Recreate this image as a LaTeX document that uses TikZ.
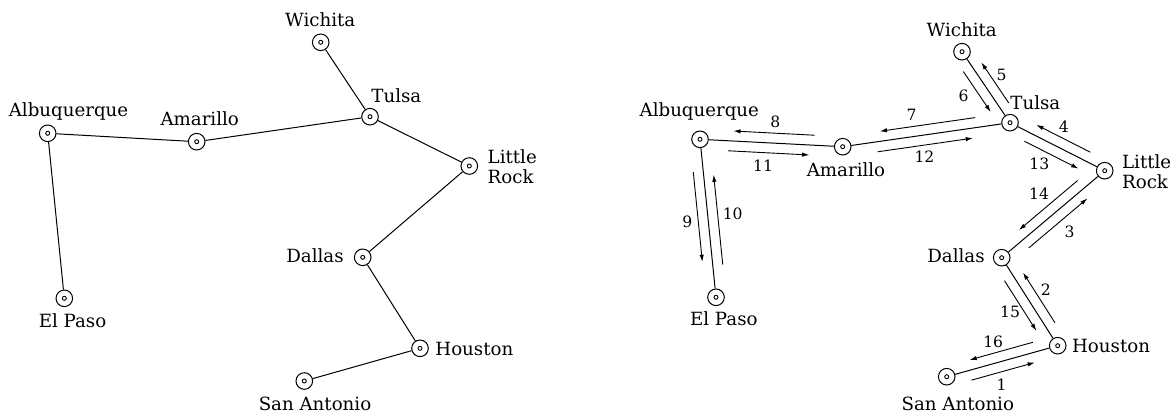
\documentclass[tikz,border=0pt]{standalone}
\usepackage{fontspec}
\setmainfont{DejaVu Serif}
\usetikzlibrary{calc,arrows.meta}
\tikzset{
  city/.style={circle,draw,minimum size=8.3pt,inner sep=0pt,line width=0.5pt,
    path picture={\draw[line width=0.45pt] (path picture bounding box.center) circle (1pt);}},
  edge/.style={line width=0.5pt},
  arr/.style={line width=0.45pt,-{Latex[length=3.6pt,width=2.2pt]}},
  cname/.style={inner sep=0pt,font=\fontsize{9.1}{10}\selectfont},
  num/.style={inner sep=0pt,font=\fontsize{7.8}{9}\selectfont},
}
% #1 from, #2 to, #3 number, #4 label fraction, #5 label distance
\newcommand\triparrow[5]{%
  \draw[arr] ($(#1)!0.2!(#2)!5pt!-90:(#2)$) -- ($(#2)!0.23!(#1)!5pt!90:(#1)$);
  \node[num] (n#3) at ($(#1)!#4!(#2)!#5!-90:(#2)$) {#3};
}
\begin{document}
\begin{tikzpicture}[x=0.5pt,y=-0.5pt]
\useasboundingbox (0,0) rectangle (1171,413);
% ---------- left graph ----------
\node[city] (wi) at (320.7,42.3) {};
\node[city] (tu) at (370,116.7) {};
\node[city] (al) at (47.7,133.3) {};
\node[city] (am) at (196.7,141.7) {};
\node[city] (lr) at (469.3,166) {};
\node[city] (da) at (362.7,257.3) {};
\node[city] (ep) at (64.3,298.3) {};
\node[city] (ho) at (420,348.3) {};
\node[city] (sa) at (304.3,381) {};
\draw[edge] (wi) -- (tu);
\draw[edge] (tu) -- (am);
\draw[edge] (am) -- (al);
\draw[edge] (al) -- (ep);
\draw[edge] (tu) -- (lr);
\draw[edge] (lr) -- (da);
\draw[edge] (da) -- (ho);
\draw[edge] (ho) -- (sa);
\node[cname,anchor=base] (twi) at (320.2,26) {Wichita};
\node[cname,anchor=base west] (ttu) at (371,102.7) {Tulsa};
\node[cname,anchor=base] (tal) at (68.5,116) {Albuquerque};
\node[cname,anchor=base] (tam) at (199.7,125) {Amarillo};
\node[cname,anchor=base west] (tlr1) at (487.3,163.3) {Little};
\node[cname,anchor=base west] (tlr2) at (487.3,183.3) {Rock};
\node[cname,anchor=base east] (tda) at (344,262.3) {Dallas};
\node[cname,anchor=base] (tep) at (72.5,327) {El Paso};
\node[cname,anchor=base west] (tho) at (435,355) {Houston};
\node[cname,anchor=base] (tsa) at (315,410) {San Antonio};
% ---------- right graph ----------
\node[city] (Wi) at (962,51.7) {};
\node[city] (Tu) at (1010,122.7) {};
\node[city] (Al) at (700,139.3) {};
\node[city] (Am) at (842.7,146.7) {};
\node[city] (Lr) at (1104.7,170.7) {};
\node[city] (Da) at (1001.7,257.7) {};
\node[city] (Ep) at (716,297.3) {};
\node[city] (Ho) at (1057.7,345.7) {};
\node[city] (Sa) at (946.7,376.7) {};
\draw[edge] (Wi) -- (Tu);
\draw[edge] (Tu) -- (Am);
\draw[edge] (Am) -- (Al);
\draw[edge] (Al) -- (Ep);
\draw[edge] (Tu) -- (Lr);
\draw[edge] (Lr) -- (Da);
\draw[edge] (Da) -- (Ho);
\draw[edge] (Ho) -- (Sa);
\node[cname,anchor=base] (tWi) at (961.7,36) {Wichita};
\node[cname,anchor=base west] (tTu) at (1010,109.3) {Tulsa};
\node[cname,anchor=base] (tAl) at (699.3,116.7) {Albuquerque};
\node[cname,anchor=base] (tAm) at (846,176) {Amarillo};
\node[cname,anchor=base west] (tLr1) at (1121.7,168.3) {Little};
\node[cname,anchor=base west] (tLr2) at (1121.7,188.3) {Rock};
\node[cname,anchor=base east] (tDa) at (985,262) {Dallas};
\node[cname,anchor=base] (tEp) at (723.8,325.3) {El Paso};
\node[cname,anchor=base west] (tHo) at (1071.7,352) {Houston};
\node[cname,anchor=base] (tSa) at (957.8,410) {San Antonio};
\triparrow{Sa}{Ho}{1}{0.44}{11.4pt}
\triparrow{Ho}{Da}{2}{0.51}{9.9pt}
\triparrow{Da}{Lr}{3}{0.51}{11.9pt}
\triparrow{Lr}{Tu}{4}{0.53}{10.3pt}
\triparrow{Tu}{Wi}{5}{0.52}{10pt}
\triparrow{Wi}{Tu}{6}{0.44}{11.8pt}
\triparrow{Tu}{Am}{7}{0.57}{10.8pt}
\triparrow{Am}{Al}{8}{0.48}{10.5pt}
\triparrow{Al}{Ep}{9}{0.51}{10.5pt}
\triparrow{Ep}{Al}{10}{0.51}{12.5pt}
\triparrow{Al}{Am}{11}{0.45}{11.5pt}
\triparrow{Am}{Tu}{12}{0.47}{11pt}
\triparrow{Tu}{Lr}{13}{0.42}{11.5pt}
\triparrow{Lr}{Da}{14}{0.48}{12.5pt}
\triparrow{Da}{Ho}{15}{0.48}{11pt}
\triparrow{Ho}{Sa}{16}{0.53}{10.6pt}
\end{tikzpicture}
\end{document}
